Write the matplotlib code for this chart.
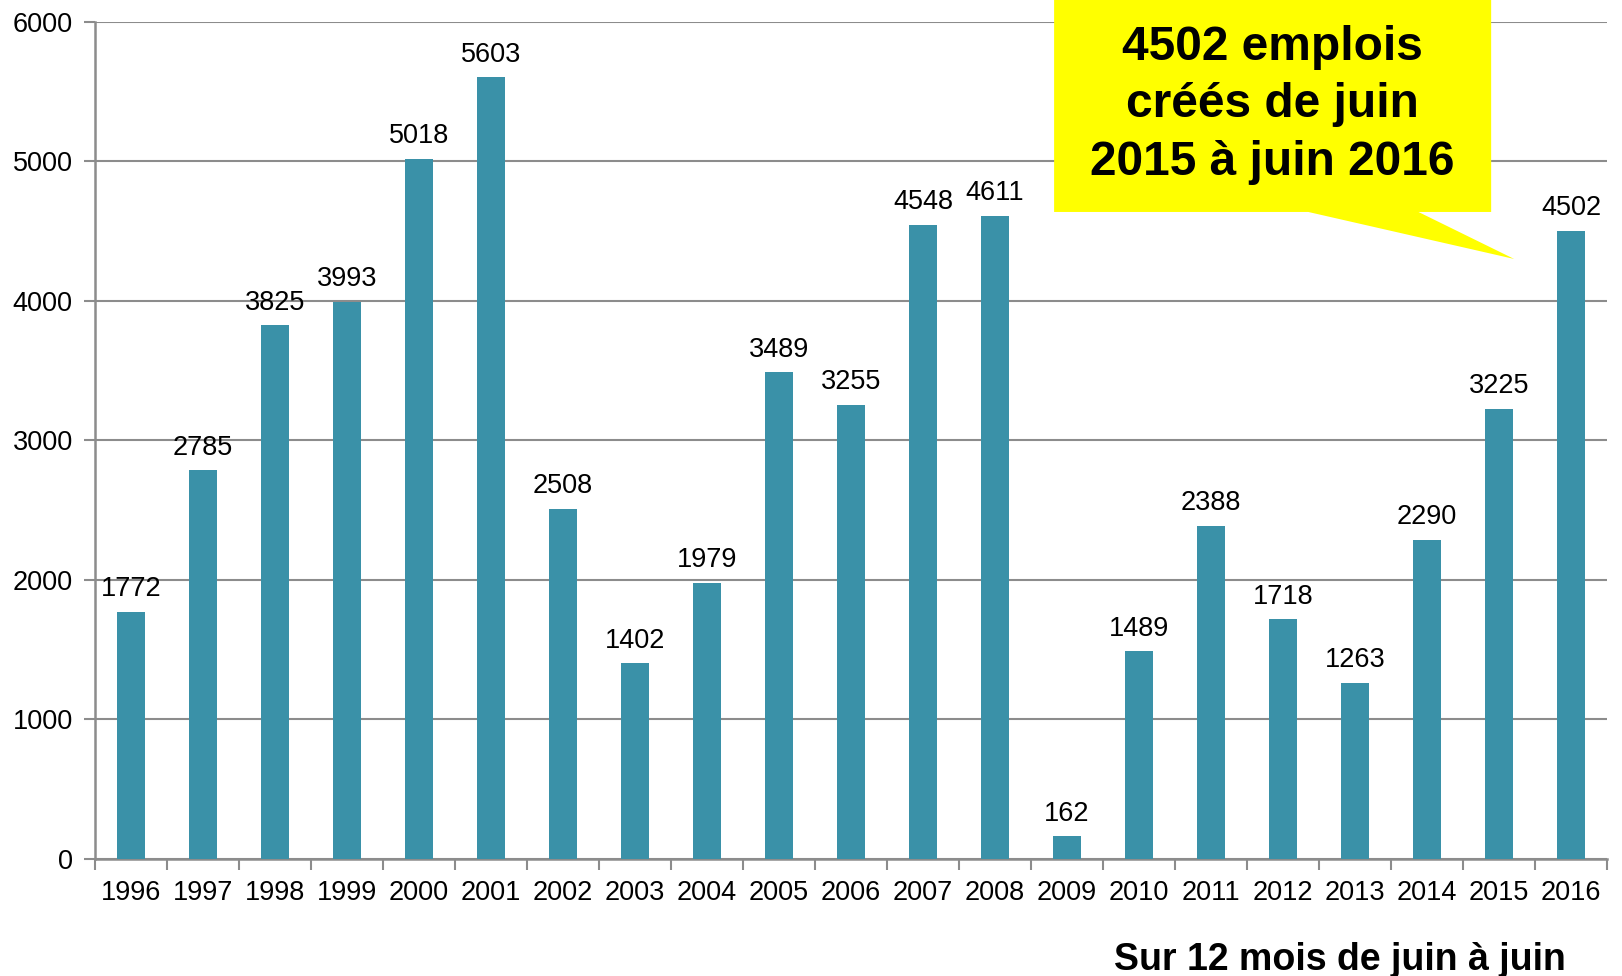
import matplotlib
matplotlib.use('Agg')
import matplotlib.pyplot as plt
from matplotlib.patches import Polygon

# DATA
years = ['1996', '1997', '1998', '1999', '2000', '2001', '2002', '2003', '2004', '2005', '2006',
         '2007', '2008', '2009', '2010', '2011', '2012', '2013', '2014', '2015', '2016']
emplois = [1772, 2785, 3825, 3993, 5018, 5603, 2508, 1402, 1979, 3489, 3255,
           4548, 4611, 162, 1489, 2388, 1718, 1263, 2290, 3225, 4502]
yticks = [0, 1000, 2000, 3000, 4000, 5000, 6000]
callout_text = "4502 emplois\ncréés de juin\n2015 à juin 2016"
footer = "Sur 12 mois de juin à juin"

BAR_COLOR = '#3A91A8'
GRID_COLOR = '#8C8C8C'

plt.rcParams['font.family'] = ['Liberation Sans', 'DejaVu Sans']

fig = plt.figure(figsize=(16.22, 9.76), dpi=100)
ax = fig.add_axes([0.0586, 0.1199, 0.9322, 0.8576])

x = list(range(len(years)))
ax.bar(x, emplois, width=0.39, color=BAR_COLOR, zorder=3)

for xi, v in zip(x, emplois):
    ax.annotate(str(v), (xi, v), xytext=(0, 7), textcoords='offset points',
                ha='center', va='bottom', fontsize=19.5, color='black')

ax.set_xlim(-0.5, len(years) - 0.5)
ax.set_ylim(0, 6000)
ax.set_yticks(yticks)
ax.set_yticklabels([str(t) for t in yticks], fontsize=19.5)
ax.set_xticks(x)
ax.set_xticklabels(years, fontsize=19.5)
# ticks between categories on the x axis
ax.set_xticks([i - 0.5 for i in range(len(years) + 1)], minor=True)
ax.tick_params(axis='x', which='major', length=0, pad=15)
ax.tick_params(axis='x', which='minor', length=8, width=1.5, color=GRID_COLOR, direction='out')
ax.tick_params(axis='y', length=8, width=1.5, color=GRID_COLOR, direction='out', pad=8)

ax.grid(axis='y', color=GRID_COLOR, linewidth=1.5, zorder=0)
for s in ['top', 'right']:
    ax.spines[s].set_visible(False)
for s in ['left', 'bottom']:
    ax.spines[s].set_color(GRID_COLOR)
    ax.spines[s].set_linewidth(1.8)

# yellow speech-bubble callout pointing at the 2016 bar
bubble = Polygon([(12.82, 6200), (18.89, 6200), (18.89, 4638), (17.88, 4638),
                  (19.21, 4301), (16.35, 4638), (12.82, 4638)],
                 closed=True, facecolor='#FFFF00', edgecolor='none', clip_on=False, zorder=5)
ax.add_patch(bubble)
ax.text(15.85, 5405, callout_text, ha='center', va='center', fontsize=34.5,
        fontweight='bold', linespacing=1.37, zorder=6)

fig.text(0.9655, 0.016, footer, ha='right', va='center', fontsize=27, fontweight='bold')

fig.savefig('out.png', dpi=100)
